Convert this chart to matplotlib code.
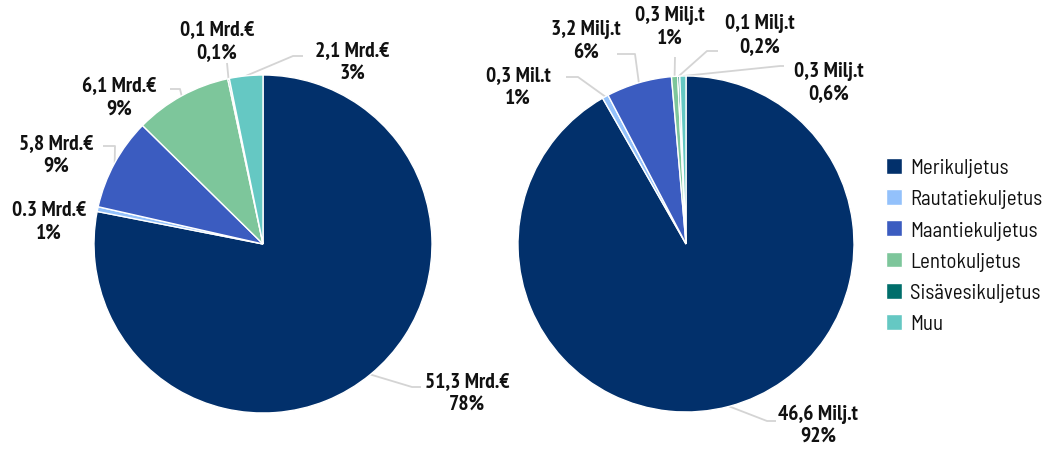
import matplotlib
matplotlib.use('Agg')
import matplotlib.pyplot as plt
import numpy as np

# ---------------- data ----------------
categories = ['Merikuljetus', 'Rautatiekuljetus', 'Maantiekuljetus',
              'Lentokuljetus', 'Sisävesikuljetus', 'Muu']
value_eur = [51.3, 0.3, 5.8, 6.1, 0.1, 2.1]
value_ton = [46.6, 0.3, 3.2, 0.3, 0.1, 0.3]
labels_eur = ['51,3 Mrd.€\n78%', '0.3 Mrd.€\n1%', '5,8 Mrd.€\n9%',
              '6,1 Mrd.€\n9%', '0,1 Mrd.€\n0,1%', '2,1 Mrd.€\n3%']
labels_ton = ['46,6 Milj.t\n92%', '0,3 Mil.t\n1%', '3,2 Milj.t\n6%',
              '0,3 Milj.t\n1%', '0,1 Milj.t\n0,2%', '0,3 Milj.t\n0,6%']

# ---------------- style / layout ----------------
colors = ['#02306B', '#93C1FB', '#3B5CC0', '#7DC69B', '#006E6B', '#65C8C3']
W, H = 1042, 452
FONT = ['PT Sans Narrow', 'Fira Sans Condensed', 'Barlow Semi Condensed', 'DejaVu Sans']
LEG_FONT = ['Barlow Semi Condensed', 'PT Sans Narrow', 'DejaVu Sans']
plt.rcParams['font.family'] = FONT

# pixel layout (x, y-from-top)
pie_layout = [
    dict(center=(263, 245), radius=169, values=value_eur, labels=labels_eur,
         text=[(467, 393), (49, 222), (56, 155), (119, 98), (217, 41), (352, 62)],
         elbow=[(412, 388), None, (115, 147), (180, 90), (227, 64), (293, 57)],
         end=[(421, 388), None, (103, 147), (170, 90), (227, 64), (303, 57)]),
    dict(center=(686, 245), radius=168, values=value_ton, labels=labels_ton,
         text=[(818, 425), (518, 87), (586, 41), (670, 27), (760, 35), (829, 83)],
         elbow=[(767, 422), (578, 78), (635, 55), (675, 58), (707, 52), (780, 67)],
         end=[(776, 422), (566, 78), (617, 55), (675, 58), (718, 52), (784, 67)]),
]

fig = plt.figure(figsize=(W / 100, H / 100), dpi=100)
ax = fig.add_axes([0, 0, 1, 1])

def fy(y):
    return H - y

wedges_all = None
for p in pie_layout:
    cx, cy = p['center']
    wedges, _ = ax.pie(p['values'], colors=colors, startangle=90, counterclock=False,
                       center=(cx, fy(cy)), radius=p['radius'],
                       wedgeprops=dict(edgecolor='white', linewidth=1.0))
    if wedges_all is None:
        wedges_all = wedges
    for i, w in enumerate(wedges):
        ang = np.deg2rad((w.theta1 + w.theta2) / 2)
        sx = cx + p['radius'] * np.cos(ang)
        sy = fy(cy) + p['radius'] * np.sin(ang)
        if p['elbow'][i] is not None:
            ex, ey = p['elbow'][i]
            tx, ty = p['end'][i]
            ax.plot([sx, ex, tx], [sy, fy(ey), fy(ty)], color='#D4D4D4', lw=1.3,
                    solid_capstyle='butt', zorder=0.5)
        lx, ly = p['text'][i]
        ax.text(lx, fy(ly), p['labels'][i], ha='center', va='center',
                multialignment='center', fontsize=15.5, fontweight='bold',
                color='#111111', linespacing=1.22)

ax.set_xlim(0, W)
ax.set_ylim(0, H)
ax.set_aspect('equal')
ax.axis('off')

leg = ax.legend(wedges_all, categories, loc='upper left',
                bbox_to_anchor=(886, fy(159)), bbox_transform=ax.transData,
                frameon=False, prop=dict(family=LEG_FONT, size=15),
                handlelength=0.79, handleheight=0.79,
                handletextpad=0.35, labelspacing=0.58, borderpad=0, borderaxespad=0)
for t in leg.get_texts():
    t.set_color('#111111')

fig.savefig('out.png', dpi=100)
